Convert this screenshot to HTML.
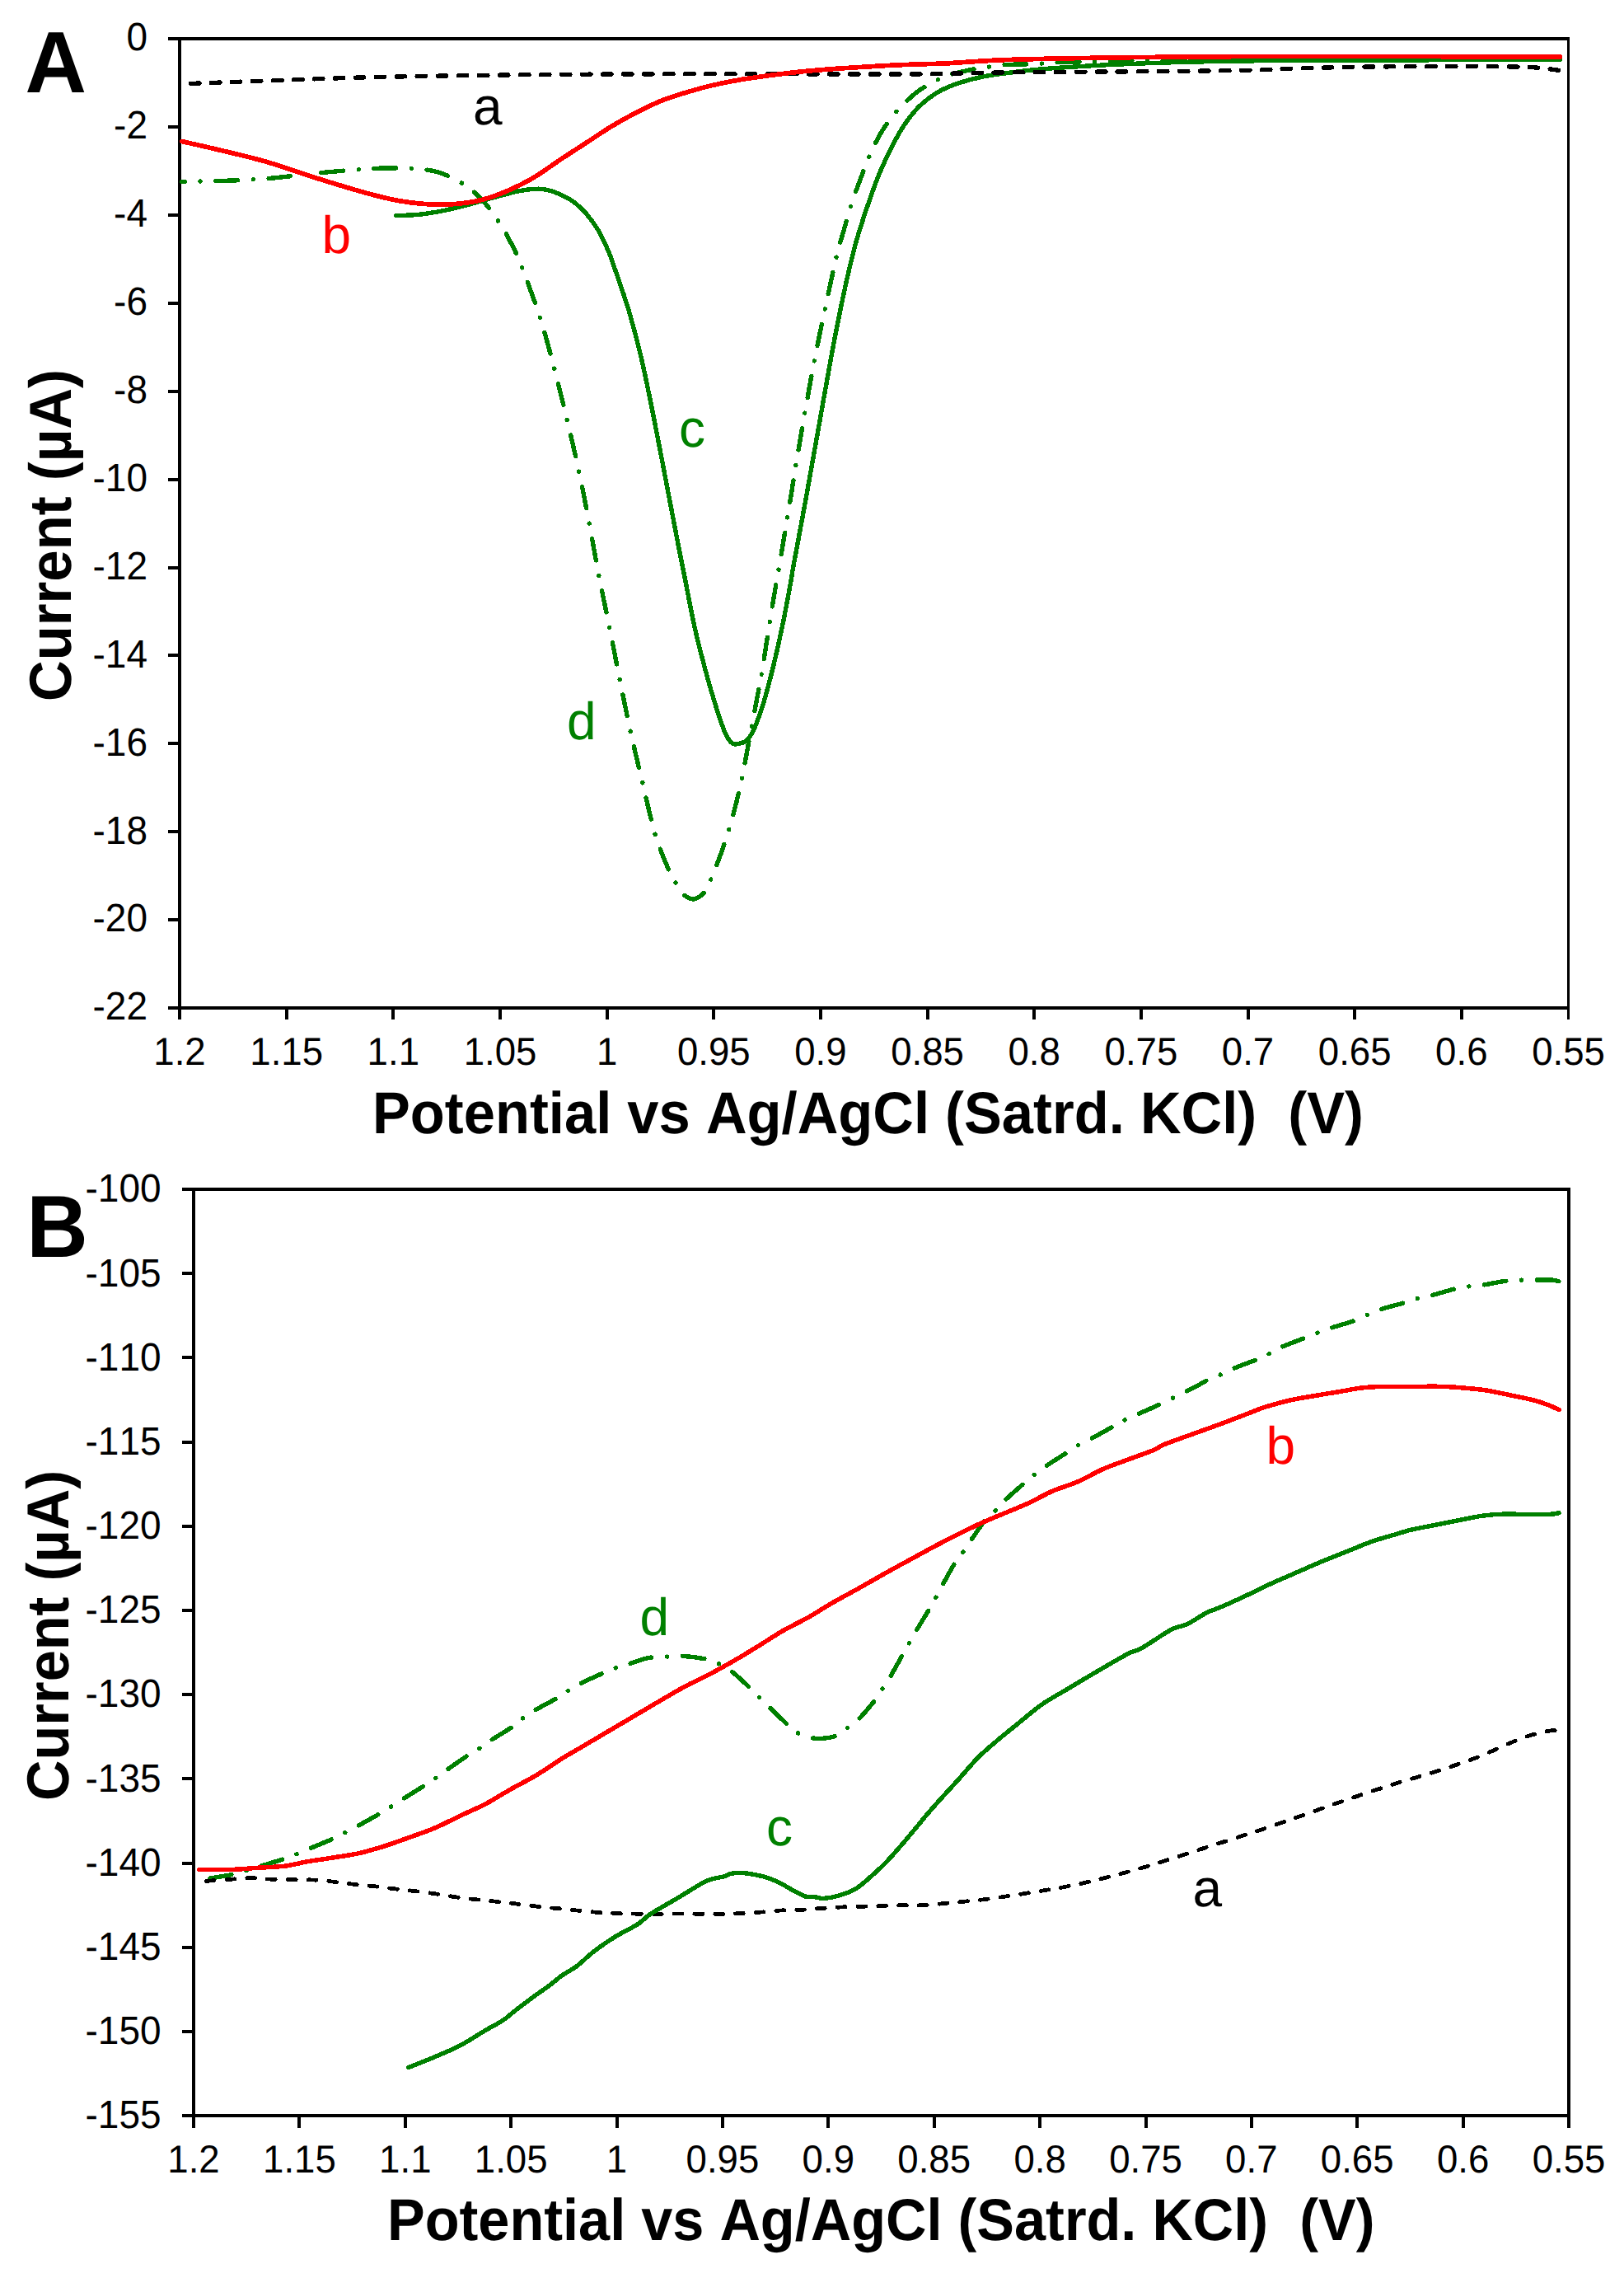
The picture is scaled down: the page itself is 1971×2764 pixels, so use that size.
<!DOCTYPE html>
<html><head><meta charset="utf-8"><title>Voltammograms</title>
<style>html,body{margin:0;padding:0;background:#fff}svg{display:block}text{font-family:"Liberation Sans",sans-serif;font-kerning:none}</style></head><body>
<svg width="1971" height="2764" viewBox="0 0 1971 2764" shape-rendering="auto" text-rendering="geometricPrecision">
<rect width="1971" height="2764" fill="#fff"/>
<g stroke="#000" stroke-width="4" fill="none" stroke-linecap="butt" shape-rendering="crispEdges">
<path d="M204.0 47.0H1905.0"/>
<path d="M218.0 47.0V1237.0"/>
<path d="M204.0 1223.0H1905.0"/>
<path d="M1903.5 45.0V1237.0" stroke-width="3"/>
<path d="M204.0 153.9H218.0M204.0 260.8H218.0M204.0 367.7H218.0M204.0 474.6H218.0M204.0 581.5H218.0M204.0 688.5H218.0M204.0 795.4H218.0M204.0 902.3H218.0M204.0 1009.2H218.0M204.0 1116.1H218.0M347.7 1223.0V1237.0M477.3 1223.0V1237.0M607.0 1223.0V1237.0M736.6 1223.0V1237.0M866.3 1223.0V1237.0M995.9 1223.0V1237.0M1125.6 1223.0V1237.0M1255.2 1223.0V1237.0M1384.9 1223.0V1237.0M1514.5 1223.0V1237.0M1644.2 1223.0V1237.0M1773.8 1223.0V1237.0"/>
</g>
<text transform="translate(179.0 61.3) scale(0.9620 1)" font-size="47.82" text-anchor="end" fill="#000">0</text>
<text transform="translate(179.0 168.2) scale(0.9620 1)" font-size="47.82" text-anchor="end" fill="#000">-2</text>
<text transform="translate(179.0 275.1) scale(0.9620 1)" font-size="47.82" text-anchor="end" fill="#000">-4</text>
<text transform="translate(179.0 382.0) scale(0.9620 1)" font-size="47.82" text-anchor="end" fill="#000">-6</text>
<text transform="translate(179.0 488.9) scale(0.9620 1)" font-size="47.82" text-anchor="end" fill="#000">-8</text>
<text transform="translate(179.0 595.8) scale(0.9620 1)" font-size="47.82" text-anchor="end" fill="#000">-10</text>
<text transform="translate(179.0 702.8) scale(0.9620 1)" font-size="47.82" text-anchor="end" fill="#000">-12</text>
<text transform="translate(179.0 809.7) scale(0.9620 1)" font-size="47.82" text-anchor="end" fill="#000">-14</text>
<text transform="translate(179.0 916.6) scale(0.9620 1)" font-size="47.82" text-anchor="end" fill="#000">-16</text>
<text transform="translate(179.0 1023.5) scale(0.9620 1)" font-size="47.82" text-anchor="end" fill="#000">-18</text>
<text transform="translate(179.0 1130.4) scale(0.9620 1)" font-size="47.82" text-anchor="end" fill="#000">-20</text>
<text transform="translate(179.0 1237.3) scale(0.9620 1)" font-size="47.82" text-anchor="end" fill="#000">-22</text>
<text transform="translate(218.0 1292.0) scale(0.9620 1)" font-size="47.40" text-anchor="middle" fill="#000">1.2</text>
<text transform="translate(347.7 1292.0) scale(0.9620 1)" font-size="47.40" text-anchor="middle" fill="#000">1.15</text>
<text transform="translate(477.3 1292.0) scale(0.9620 1)" font-size="47.40" text-anchor="middle" fill="#000">1.1</text>
<text transform="translate(607.0 1292.0) scale(0.9620 1)" font-size="47.40" text-anchor="middle" fill="#000">1.05</text>
<text transform="translate(736.6 1292.0) scale(0.9620 1)" font-size="47.40" text-anchor="middle" fill="#000">1</text>
<text transform="translate(866.3 1292.0) scale(0.9620 1)" font-size="47.40" text-anchor="middle" fill="#000">0.95</text>
<text transform="translate(995.9 1292.0) scale(0.9620 1)" font-size="47.40" text-anchor="middle" fill="#000">0.9</text>
<text transform="translate(1125.6 1292.0) scale(0.9620 1)" font-size="47.40" text-anchor="middle" fill="#000">0.85</text>
<text transform="translate(1255.2 1292.0) scale(0.9620 1)" font-size="47.40" text-anchor="middle" fill="#000">0.8</text>
<text transform="translate(1384.9 1292.0) scale(0.9620 1)" font-size="47.40" text-anchor="middle" fill="#000">0.75</text>
<text transform="translate(1514.5 1292.0) scale(0.9620 1)" font-size="47.40" text-anchor="middle" fill="#000">0.7</text>
<text transform="translate(1644.2 1292.0) scale(0.9620 1)" font-size="47.40" text-anchor="middle" fill="#000">0.65</text>
<text transform="translate(1773.8 1292.0) scale(0.9620 1)" font-size="47.40" text-anchor="middle" fill="#000">0.6</text>
<text transform="translate(1903.5 1292.0) scale(0.9620 1)" font-size="47.40" text-anchor="middle" fill="#000">0.55</text>
<g stroke="#000" stroke-width="4" fill="none" stroke-linecap="butt" shape-rendering="crispEdges">
<path d="M221.0 1443.0H1906.0"/>
<path d="M235.0 1443.0V2582.0"/>
<path d="M221.0 2567.0H1906.0"/>
<path d="M1904.0 1441.0V2582.0" stroke-width="4"/>
<path d="M221.0 1545.2H235.0M221.0 1647.4H235.0M221.0 1749.5H235.0M221.0 1851.7H235.0M221.0 1953.9H235.0M221.0 2056.1H235.0M221.0 2158.3H235.0M221.0 2260.5H235.0M221.0 2362.6H235.0M221.0 2464.8H235.0M363.4 2567.0V2582.0M491.8 2567.0V2582.0M620.2 2567.0V2582.0M748.5 2567.0V2582.0M876.9 2567.0V2582.0M1005.3 2567.0V2582.0M1133.7 2567.0V2582.0M1262.1 2567.0V2582.0M1390.5 2567.0V2582.0M1518.8 2567.0V2582.0M1647.2 2567.0V2582.0M1775.6 2567.0V2582.0"/>
</g>
<text transform="translate(195.6 1458.3) scale(0.9620 1)" font-size="47.82" text-anchor="end" fill="#000">-100</text>
<text transform="translate(195.6 1560.5) scale(0.9620 1)" font-size="47.82" text-anchor="end" fill="#000">-105</text>
<text transform="translate(195.6 1662.7) scale(0.9620 1)" font-size="47.82" text-anchor="end" fill="#000">-110</text>
<text transform="translate(195.6 1764.8) scale(0.9620 1)" font-size="47.82" text-anchor="end" fill="#000">-115</text>
<text transform="translate(195.6 1867.0) scale(0.9620 1)" font-size="47.82" text-anchor="end" fill="#000">-120</text>
<text transform="translate(195.6 1969.2) scale(0.9620 1)" font-size="47.82" text-anchor="end" fill="#000">-125</text>
<text transform="translate(195.6 2071.4) scale(0.9620 1)" font-size="47.82" text-anchor="end" fill="#000">-130</text>
<text transform="translate(195.6 2173.6) scale(0.9620 1)" font-size="47.82" text-anchor="end" fill="#000">-135</text>
<text transform="translate(195.6 2275.8) scale(0.9620 1)" font-size="47.82" text-anchor="end" fill="#000">-140</text>
<text transform="translate(195.6 2377.9) scale(0.9620 1)" font-size="47.82" text-anchor="end" fill="#000">-145</text>
<text transform="translate(195.6 2480.1) scale(0.9620 1)" font-size="47.82" text-anchor="end" fill="#000">-150</text>
<text transform="translate(195.6 2582.3) scale(0.9620 1)" font-size="47.82" text-anchor="end" fill="#000">-155</text>
<text transform="translate(235.0 2636.0) scale(0.9620 1)" font-size="47.40" text-anchor="middle" fill="#000">1.2</text>
<text transform="translate(363.4 2636.0) scale(0.9620 1)" font-size="47.40" text-anchor="middle" fill="#000">1.15</text>
<text transform="translate(491.8 2636.0) scale(0.9620 1)" font-size="47.40" text-anchor="middle" fill="#000">1.1</text>
<text transform="translate(620.2 2636.0) scale(0.9620 1)" font-size="47.40" text-anchor="middle" fill="#000">1.05</text>
<text transform="translate(748.5 2636.0) scale(0.9620 1)" font-size="47.40" text-anchor="middle" fill="#000">1</text>
<text transform="translate(876.9 2636.0) scale(0.9620 1)" font-size="47.40" text-anchor="middle" fill="#000">0.95</text>
<text transform="translate(1005.3 2636.0) scale(0.9620 1)" font-size="47.40" text-anchor="middle" fill="#000">0.9</text>
<text transform="translate(1133.7 2636.0) scale(0.9620 1)" font-size="47.40" text-anchor="middle" fill="#000">0.85</text>
<text transform="translate(1262.1 2636.0) scale(0.9620 1)" font-size="47.40" text-anchor="middle" fill="#000">0.8</text>
<text transform="translate(1390.5 2636.0) scale(0.9620 1)" font-size="47.40" text-anchor="middle" fill="#000">0.75</text>
<text transform="translate(1518.8 2636.0) scale(0.9620 1)" font-size="47.40" text-anchor="middle" fill="#000">0.7</text>
<text transform="translate(1647.2 2636.0) scale(0.9620 1)" font-size="47.40" text-anchor="middle" fill="#000">0.65</text>
<text transform="translate(1775.6 2636.0) scale(0.9620 1)" font-size="47.40" text-anchor="middle" fill="#000">0.6</text>
<text transform="translate(1904.0 2636.0) scale(0.9620 1)" font-size="47.40" text-anchor="middle" fill="#000">0.55</text>
<g fill="none" stroke-linejoin="round" shape-rendering="crispEdges">
<path d="M220.9 220.3C227.7 220.2 247.1 220.1 261.6 219.7C276.1 219.3 295.0 218.5 307.8 217.8C320.6 217.1 325.7 216.6 338.5 215.3C351.3 214.0 368.3 211.7 384.7 210.1C401.1 208.5 423.1 206.5 437.0 205.5C450.9 204.5 457.1 204.2 467.9 204.0C478.7 203.8 490.9 203.7 501.7 204.6C512.5 205.5 522.5 206.1 532.5 209.2C542.5 212.3 553.1 217.5 561.8 223.0C570.5 228.5 577.7 234.8 584.9 242.4C592.1 250.0 598.8 259.4 604.9 268.6C611.0 277.9 616.9 288.2 621.8 297.9C626.7 307.6 628.6 311.7 634.3 326.6C640.0 341.5 649.5 366.7 656.0 387.1C662.5 407.6 667.8 428.6 673.3 449.3C678.8 470.0 683.7 490.7 688.7 511.5C693.7 532.3 698.6 553.1 703.1 574.0C707.6 594.9 711.5 616.1 715.5 637.1C719.5 658.1 723.1 679.2 727.2 700.2C731.3 721.2 735.9 742.2 740.1 763.1C744.3 784.0 748.2 804.8 752.4 825.6C756.6 846.4 760.7 866.9 765.3 887.8C769.9 908.7 775.1 930.0 780.1 950.9C785.1 971.8 790.1 995.7 795.5 1013.4C800.9 1031.1 808.1 1047.2 812.4 1057.1C816.6 1066.9 817.9 1067.6 821.0 1072.5C824.1 1077.4 827.4 1083.3 830.9 1086.4C834.4 1089.5 838.4 1091.0 841.7 1091.0C845.0 1091.0 848.3 1088.4 850.9 1086.4C853.5 1084.5 854.9 1083.0 857.1 1079.3C859.3 1075.6 860.8 1071.7 863.9 1064.2C867.0 1056.7 872.0 1044.2 875.6 1034.1C879.2 1023.9 882.6 1013.6 885.7 1003.3C888.8 993.0 891.4 982.9 894.0 972.5C896.6 962.1 898.5 953.7 901.1 941.1C903.7 928.5 906.5 912.5 909.4 897.0C912.3 881.5 916.1 861.5 918.7 847.8C921.3 834.1 922.1 830.8 924.8 814.8C927.5 798.8 931.3 772.8 934.7 751.7C938.1 730.7 941.8 709.6 945.4 688.5C949.0 667.4 952.7 646.2 956.2 625.1C959.7 604.0 962.9 582.8 966.4 561.7C969.9 540.6 973.5 519.7 977.2 498.6C981.0 477.5 984.8 455.9 988.9 434.9C993.0 413.9 997.3 393.2 1001.8 372.4C1006.2 351.6 1011.9 325.7 1015.6 310.2C1019.3 294.7 1021.1 289.8 1024.1 279.4C1027.0 269.0 1030.0 258.3 1033.3 248.0C1036.6 237.7 1040.3 227.8 1044.1 217.8C1047.8 207.8 1051.4 197.7 1055.8 187.9C1060.2 178.2 1064.7 168.3 1070.3 159.3C1075.9 150.3 1082.4 141.6 1089.3 133.8C1096.2 126.0 1105.6 117.6 1111.8 112.5C1118.0 107.4 1121.7 106.0 1126.4 103.2C1131.2 100.4 1135.5 97.8 1140.3 95.6C1145.1 93.4 1147.8 92.1 1155.4 90.0C1163.1 87.9 1178.2 84.5 1186.2 83.0C1194.2 81.5 1197.5 81.5 1203.1 80.8C1208.7 80.1 1212.0 79.1 1220.0 78.6C1228.0 78.1 1242.9 78.0 1250.9 77.7C1258.9 77.4 1262.2 77.2 1267.8 76.8C1273.4 76.4 1277.3 75.9 1284.7 75.6C1292.1 75.3 1304.7 75.2 1312.4 75.0C1320.1 74.8 1320.1 74.9 1330.9 74.6C1341.7 74.3 1353.9 73.6 1377.0 73.1C1400.1 72.6 1432.3 72.0 1469.5 71.6C1506.7 71.2 1529.3 70.9 1600.0 70.6C1670.7 70.3 1844.6 70.1 1893.5 70.0" stroke="#008000" stroke-width="5.4" stroke-dasharray="26.5 18.82 0.1 18.82" stroke-linecap="round" stroke-dashoffset="23.27"/>
<path d="M480.8 261.5C485.3 261.3 498.2 261.4 507.9 260.4C517.5 259.4 528.4 257.6 538.7 255.5C549.0 253.4 559.2 250.7 569.5 248.0C579.8 245.3 590.0 242.2 600.2 239.4C610.5 236.7 622.3 233.2 631.0 231.5C639.7 229.8 646.9 229.3 652.6 229.2C658.3 229.1 660.7 229.5 665.4 230.7C670.1 231.9 675.7 233.9 680.8 236.3C685.9 238.7 691.1 241.1 696.2 244.9C701.3 248.8 706.5 253.4 711.6 259.4C716.7 265.4 722.4 272.9 727.0 280.9C731.6 288.8 735.8 298.8 739.3 307.1C742.8 315.4 743.8 319.2 747.8 330.8C751.8 342.4 758.1 359.6 763.2 377.0C768.3 394.4 773.5 413.4 778.6 435.5C783.7 457.6 788.9 483.8 794.0 509.4C799.1 535.0 804.3 562.7 809.4 589.4C814.5 616.1 821.2 651.1 824.8 669.5C828.4 687.9 827.8 684.6 830.9 700.0C834.0 715.4 839.1 743.1 843.2 761.6C847.3 780.1 851.4 795.4 855.5 810.8C859.6 826.2 864.3 842.1 867.9 853.9C871.5 865.7 874.5 874.8 877.1 881.7C879.7 888.6 881.2 892.1 883.3 895.5C885.3 898.9 887.3 901.1 889.4 902.3C891.5 903.5 893.0 903.1 895.6 902.6C898.2 902.1 902.2 901.2 904.8 899.5C907.4 897.8 909.0 895.6 911.0 892.4C913.0 889.2 914.5 886.5 917.1 880.1C919.7 873.7 922.8 866.0 926.4 853.9C930.0 841.8 934.6 824.7 938.7 807.8C942.8 790.9 947.3 770.3 951.0 752.3C954.7 734.3 958.8 711.2 960.8 700.0C962.8 688.8 960.3 701.3 963.3 684.9C966.3 668.5 973.6 629.9 978.7 601.7C983.8 573.5 989.0 544.2 994.1 515.5C999.2 486.8 1004.4 456.5 1009.5 429.3C1014.6 402.1 1020.2 374.0 1024.9 352.3C1029.6 330.6 1033.3 314.8 1037.5 299.0C1041.7 283.2 1045.5 271.9 1050.2 257.8C1054.9 243.8 1060.5 227.5 1065.6 214.7C1070.7 201.9 1075.9 191.2 1081.0 180.9C1086.1 170.7 1091.3 161.2 1096.4 153.2C1101.5 145.2 1106.7 138.8 1111.8 133.1C1116.9 127.4 1122.1 123.2 1127.2 119.3C1132.3 115.3 1136.9 112.4 1142.6 109.4C1148.3 106.4 1153.3 104.1 1161.6 101.4C1169.9 98.7 1182.1 95.2 1192.4 93.1C1202.7 90.9 1212.9 89.9 1223.2 88.5C1233.5 87.1 1243.8 85.8 1254.0 84.8C1264.2 83.8 1269.3 83.3 1284.7 82.3C1300.1 81.3 1325.8 79.6 1346.3 78.6C1366.8 77.6 1387.4 76.9 1407.9 76.2C1428.4 75.5 1449.0 75.0 1469.5 74.6C1490.0 74.2 1509.2 73.9 1531.0 73.7C1552.8 73.5 1539.6 73.8 1600.0 73.5C1660.4 73.2 1844.6 72.2 1893.5 72.0" stroke="#008000" stroke-width="5.4" stroke-linecap="round"/>
<path d="M231.5 101.4C251.2 100.7 309.1 98.4 350.0 97.0C390.9 95.6 419.9 94.2 477.0 93.1C534.1 92.0 622.1 90.8 692.6 90.3C763.1 89.8 832.1 89.8 900.0 89.8C967.9 89.8 1059.6 90.1 1100.0 90.0C1140.4 89.9 1122.1 89.8 1142.6 89.4C1163.1 89.1 1189.1 88.3 1223.0 87.9C1256.9 87.5 1304.9 87.3 1346.0 87.0C1387.1 86.7 1438.7 86.4 1469.5 86.0C1500.3 85.6 1516.8 85.2 1531.0 84.8C1545.2 84.4 1543.5 84.1 1555.0 83.7C1566.5 83.3 1584.4 82.7 1600.0 82.3C1615.6 81.9 1624.0 81.5 1648.5 81.2C1673.0 80.9 1722.4 80.6 1747.0 80.5C1771.6 80.4 1779.6 80.4 1796.0 80.5C1812.4 80.6 1833.3 80.9 1845.6 81.2C1857.9 81.5 1861.8 81.8 1870.0 82.5C1878.2 83.2 1890.7 85.2 1894.8 85.7" stroke="#000" stroke-width="5.3" stroke-dasharray="10.6 14.4" stroke-linecap="round"/>
<path d="M220.9 171.6C227.7 173.2 244.6 176.8 261.6 180.9C278.7 185.0 302.7 190.4 323.2 196.3C343.7 202.2 364.2 209.9 384.7 216.3C405.2 222.7 429.4 230.1 446.3 234.7C463.2 239.3 473.5 241.8 486.3 244.0C499.1 246.2 512.0 247.4 523.3 248.0C534.6 248.6 543.7 248.3 554.0 247.4C564.3 246.5 574.6 245.0 584.9 242.4C595.2 239.8 605.4 236.0 615.6 231.7C625.9 227.3 635.5 222.7 646.4 216.3C657.3 209.9 669.9 200.4 680.8 193.2C691.7 186.0 701.3 179.9 711.6 173.2C721.9 166.5 732.1 159.4 742.4 153.2C752.7 147.0 763.0 141.4 773.2 136.2C783.5 130.9 793.6 125.8 803.9 121.7C814.1 117.6 824.4 114.7 834.7 111.6C845.0 108.5 855.2 105.7 865.5 103.3C875.8 100.9 886.0 98.9 896.3 97.1C906.6 95.3 916.8 93.9 927.1 92.5C937.4 91.1 947.6 89.7 957.9 88.5C968.2 87.3 978.4 86.3 988.7 85.4C999.0 84.5 1009.2 83.7 1019.5 83.0C1029.8 82.3 1040.0 81.7 1050.2 81.1C1060.5 80.5 1070.7 79.8 1081.0 79.3C1091.3 78.8 1100.3 78.4 1111.8 78.0C1123.3 77.6 1131.4 77.7 1150.0 76.8C1168.6 75.9 1190.5 73.6 1223.2 72.5C1255.9 71.4 1305.2 70.6 1346.3 70.0C1387.3 69.4 1427.2 69.0 1469.5 68.8C1511.8 68.5 1529.4 68.5 1600.0 68.5C1670.6 68.5 1844.4 68.8 1893.3 68.9" stroke="#ff0000" stroke-width="5.7" stroke-linecap="round"/>
<path d="M254.8 2279.1C259.8 2278.2 277.2 2275.5 284.7 2273.9C292.2 2272.3 290.0 2272.4 300.0 2269.3C310.0 2266.2 334.5 2258.8 344.7 2255.5C354.9 2252.2 355.6 2251.5 361.0 2249.3C366.4 2247.1 369.7 2245.6 377.0 2242.5C384.3 2239.4 397.6 2234.0 404.7 2230.8C411.8 2227.6 414.4 2225.9 419.5 2223.2C424.6 2220.5 428.5 2218.7 435.5 2214.8C442.5 2211.0 455.0 2204.0 461.7 2200.1C468.4 2196.2 470.8 2194.4 475.5 2191.4C480.2 2188.4 483.3 2186.4 490.0 2182.2C496.7 2178.0 509.0 2170.4 515.6 2166.2C522.2 2162.0 524.8 2160.2 529.4 2157.0C534.0 2153.8 536.9 2151.3 543.3 2146.8C549.7 2142.3 561.3 2134.2 567.9 2129.9C574.5 2125.6 578.0 2124.0 582.7 2120.9C587.4 2117.8 589.6 2115.8 596.2 2111.4C602.8 2107.1 616.0 2099.3 622.4 2094.8C628.8 2090.3 630.4 2087.8 634.7 2084.6C639.1 2081.4 641.6 2079.4 648.5 2075.4C655.4 2071.4 669.3 2064.4 676.2 2060.3C683.1 2056.2 685.3 2054.0 690.1 2051.0C694.9 2048.0 697.7 2046.0 704.9 2042.4C712.1 2038.8 725.9 2032.7 733.2 2029.5C740.5 2026.3 743.5 2025.1 748.6 2023.3C753.7 2021.5 757.6 2020.7 764.0 2018.7C770.4 2016.8 779.4 2013.0 787.1 2011.6C794.8 2010.2 803.5 2010.5 810.2 2010.1C816.9 2009.7 819.2 2008.7 827.1 2009.2C835.0 2009.7 850.4 2011.6 857.9 2013.2C865.4 2014.8 867.3 2016.1 872.4 2018.7C877.5 2021.3 882.4 2023.7 888.7 2028.6C895.0 2033.5 904.7 2042.8 910.2 2048.0C915.7 2053.2 917.9 2056.1 921.9 2060.0C925.9 2063.9 928.5 2066.2 934.2 2071.7C940.0 2077.2 950.5 2087.9 956.4 2093.2C962.2 2098.5 964.6 2100.8 969.3 2103.4C974.0 2106.0 979.7 2107.6 984.7 2108.6C989.7 2109.6 994.2 2109.7 999.5 2109.2C1004.8 2108.7 1011.4 2107.8 1016.4 2105.5C1021.4 2103.2 1025.2 2099.1 1029.7 2095.7C1034.2 2092.3 1037.8 2090.3 1043.1 2084.9C1048.4 2079.5 1056.9 2069.4 1061.6 2063.3C1066.3 2057.2 1068.2 2053.4 1071.4 2048.5C1074.6 2043.6 1076.7 2040.9 1080.7 2034.1C1084.7 2027.3 1091.5 2014.8 1095.4 2007.9C1099.3 2001.0 1101.3 1997.5 1104.1 1992.5C1106.9 1987.5 1108.5 1984.7 1112.4 1978.0C1116.4 1971.3 1123.8 1959.3 1127.8 1952.5C1131.8 1945.7 1133.6 1942.2 1136.4 1937.1C1139.2 1932.0 1141.0 1928.4 1144.7 1921.7C1148.4 1915.0 1154.5 1903.5 1158.6 1897.0C1162.7 1890.5 1165.9 1887.5 1169.3 1882.6C1172.7 1877.7 1174.8 1874.1 1179.2 1867.8C1183.6 1861.5 1190.5 1850.7 1195.5 1844.7C1200.5 1838.7 1205.0 1836.2 1209.4 1831.8C1213.8 1827.4 1216.1 1823.9 1221.7 1818.5C1227.3 1813.1 1237.5 1804.4 1243.2 1799.4C1249.0 1794.4 1251.6 1792.3 1256.2 1788.7C1260.8 1785.1 1264.6 1782.2 1270.9 1777.9C1277.2 1773.6 1287.6 1767.2 1294.0 1763.1C1300.4 1758.9 1304.3 1756.0 1309.4 1753.0C1314.5 1750.0 1317.9 1749.0 1324.8 1745.3C1331.7 1741.6 1344.2 1734.6 1351.0 1730.8C1357.8 1727.0 1360.7 1725.1 1365.8 1722.5C1370.9 1719.9 1374.5 1718.6 1381.8 1715.4C1389.1 1712.2 1398.1 1708.5 1409.5 1703.1C1420.9 1697.7 1440.7 1687.7 1450.0 1683.0C1459.3 1678.3 1460.1 1677.2 1465.4 1674.7C1470.7 1672.2 1476.3 1670.3 1481.7 1667.9C1487.1 1665.5 1490.4 1663.3 1497.7 1660.2C1505.0 1657.1 1518.2 1652.5 1525.4 1649.5C1532.6 1646.5 1535.7 1645.0 1540.8 1642.4C1545.9 1639.8 1549.0 1637.3 1556.2 1634.1C1563.4 1630.9 1576.7 1626.1 1583.9 1623.3C1591.1 1620.5 1593.9 1619.1 1599.3 1617.1C1604.7 1615.0 1608.8 1613.5 1616.3 1611.0C1623.8 1608.5 1636.8 1605.0 1644.0 1602.4C1651.2 1599.8 1654.0 1597.6 1659.4 1595.3C1664.8 1593.0 1668.9 1590.9 1676.3 1588.5C1683.7 1586.1 1696.6 1583.0 1704.0 1580.8C1711.4 1578.6 1715.2 1576.8 1720.9 1575.3C1726.6 1573.8 1730.5 1573.5 1737.9 1571.6C1745.4 1569.7 1758.0 1565.7 1765.6 1563.9C1773.2 1562.1 1777.8 1561.6 1783.4 1560.8C1789.0 1560.0 1792.4 1560.2 1799.4 1559.2C1806.4 1558.2 1817.7 1555.6 1825.6 1554.6C1833.5 1553.6 1840.2 1553.3 1846.6 1553.1C1853.0 1552.8 1857.8 1553.1 1864.1 1553.1C1870.3 1553.1 1879.3 1552.8 1884.1 1553.1C1888.8 1553.4 1891.2 1554.7 1892.6 1555.0" stroke="#008000" stroke-width="5.4" stroke-dasharray="26.5 18.82 0.1 18.82" stroke-linecap="round" stroke-dashoffset="0"/>
<path d="M250.2 2282.4C255.4 2282.0 272.3 2280.7 281.6 2280.1C290.9 2279.5 298.5 2278.6 306.2 2278.6C313.9 2278.6 315.5 2279.7 327.8 2280.1C340.1 2280.5 367.3 2280.5 380.1 2281.0C392.9 2281.5 396.5 2282.3 404.7 2283.2C412.9 2284.1 421.2 2285.4 429.4 2286.3C437.6 2287.2 445.8 2287.8 454.0 2288.7C462.2 2289.6 470.4 2290.8 478.6 2291.8C486.8 2292.8 495.1 2293.6 503.3 2294.6C511.5 2295.6 519.7 2296.5 527.9 2297.7C536.1 2298.9 544.3 2300.5 552.5 2301.7C560.7 2302.9 568.9 2303.8 577.1 2304.7C585.3 2305.6 593.6 2306.3 601.8 2307.2C610.0 2308.1 618.2 2309.0 626.4 2310.0C634.6 2311.0 642.8 2312.2 651.0 2313.1C659.2 2314.0 667.5 2314.7 675.7 2315.5C683.9 2316.3 692.1 2317.2 700.3 2318.0C708.4 2318.8 716.4 2319.7 724.6 2320.3C732.8 2320.9 737.0 2321.2 749.3 2321.6C761.6 2322.0 786.2 2322.4 798.5 2322.5C810.8 2322.6 810.9 2321.9 823.2 2321.9C835.5 2321.9 859.6 2322.6 872.4 2322.5C885.2 2322.4 891.4 2322.0 900.1 2321.6C908.8 2321.2 916.6 2320.6 924.8 2320.0C933.0 2319.4 941.2 2318.4 949.4 2317.9C957.6 2317.4 965.8 2317.6 974.0 2317.2C982.2 2316.8 990.4 2315.9 998.6 2315.4C1006.8 2314.9 1015.1 2314.3 1023.3 2313.9C1031.5 2313.5 1039.7 2313.5 1047.9 2313.2C1056.1 2312.9 1064.3 2312.6 1072.5 2312.3C1080.7 2312.1 1089.0 2311.8 1097.2 2311.7C1105.4 2311.6 1113.6 2312.1 1121.8 2311.7C1130.0 2311.3 1138.2 2310.3 1146.4 2309.5C1154.6 2308.7 1162.3 2308.0 1171.1 2307.1C1179.9 2306.2 1186.4 2305.8 1199.3 2304.1C1212.2 2302.4 1232.1 2299.3 1248.5 2296.7C1264.9 2294.1 1281.4 2291.7 1297.8 2288.4C1314.2 2285.1 1330.6 2281.2 1347.0 2277.0C1363.4 2272.8 1379.9 2268.2 1396.3 2263.3C1412.7 2258.4 1429.2 2252.8 1445.6 2247.5C1462.0 2242.2 1478.4 2237.0 1494.8 2231.7C1511.2 2226.4 1527.7 2221.1 1544.1 2215.5C1560.5 2209.9 1576.9 2203.9 1593.3 2198.2C1609.7 2192.4 1626.2 2186.6 1642.6 2181.0C1659.0 2175.4 1675.5 2169.9 1691.9 2164.7C1708.3 2159.5 1724.7 2155.2 1741.1 2149.9C1757.5 2144.7 1774.0 2139.5 1790.4 2133.2C1806.8 2126.9 1827.4 2116.9 1839.7 2112.0C1852.0 2107.1 1856.9 2105.7 1864.3 2103.6C1871.7 2101.5 1879.1 2100.2 1884.0 2099.7C1888.9 2099.2 1892.2 2100.5 1893.8 2100.7" stroke="#000" stroke-width="4.8" stroke-dasharray="9.9 14.9" stroke-linecap="round"/>
<path d="M495.6 2508.6C501.0 2506.4 517.4 2500.1 527.9 2495.6C538.4 2491.1 548.4 2487.2 558.7 2481.8C569.0 2476.4 580.8 2468.4 589.5 2463.3C598.2 2458.2 604.9 2455.1 611.0 2451.0C617.1 2446.9 619.7 2443.8 626.4 2438.7C633.1 2433.6 644.3 2425.1 651.0 2420.2C657.7 2415.3 661.3 2413.2 666.4 2409.4C671.5 2405.6 676.2 2401.1 681.8 2397.1C687.4 2393.1 693.4 2390.6 700.0 2385.6C706.6 2380.6 713.9 2373.0 721.6 2367.1C729.3 2361.2 737.5 2355.6 746.2 2350.2C754.9 2344.8 766.7 2339.4 773.9 2334.8C781.1 2330.2 781.1 2327.9 789.3 2322.5C797.5 2317.1 812.4 2308.9 823.2 2302.5C834.0 2296.1 846.7 2287.8 853.9 2284.0C861.1 2280.2 862.2 2280.6 866.3 2279.4C870.4 2278.2 875.0 2277.9 878.6 2276.9C882.2 2275.9 883.7 2273.9 887.8 2273.2C891.9 2272.5 896.5 2271.9 903.2 2272.6C909.9 2273.3 920.6 2275.2 927.8 2277.2C935.0 2279.2 940.6 2281.9 946.3 2284.6C951.9 2287.3 956.6 2290.5 961.7 2293.2C966.8 2295.9 972.5 2299.5 977.1 2300.9C981.7 2302.3 985.5 2301.4 989.4 2301.8C993.2 2302.2 995.1 2303.8 1000.2 2303.4C1005.3 2303.0 1013.8 2301.4 1020.2 2299.4C1026.6 2297.4 1033.1 2295.0 1038.7 2291.7C1044.3 2288.4 1047.9 2284.8 1054.1 2279.4C1060.2 2274.0 1067.9 2267.4 1075.6 2259.4C1083.3 2251.4 1091.0 2242.4 1100.2 2231.6C1109.4 2220.8 1120.7 2206.5 1131.0 2194.7C1141.3 2182.9 1152.5 2171.1 1161.8 2160.8C1171.0 2150.5 1178.6 2141.1 1186.5 2133.1C1194.4 2125.1 1201.5 2119.4 1209.4 2112.6C1217.3 2105.8 1224.8 2099.9 1234.0 2092.5C1243.2 2085.1 1254.5 2075.1 1264.8 2067.9C1275.1 2060.7 1285.3 2055.6 1295.6 2049.4C1305.9 2043.2 1314.1 2038.2 1326.4 2031.0C1338.7 2023.8 1359.8 2011.4 1369.5 2006.3C1379.2 2001.2 1376.2 2005.1 1384.9 2000.2C1393.6 1995.3 1412.6 1982.0 1421.8 1977.1C1431.0 1972.2 1433.1 1974.3 1440.3 1970.9C1447.5 1967.5 1458.2 1959.9 1464.9 1956.5C1471.7 1953.1 1473.0 1953.6 1480.8 1950.3C1488.6 1947.0 1501.3 1941.2 1511.6 1936.4C1521.9 1931.6 1532.1 1926.3 1542.4 1921.6C1552.7 1916.9 1563.0 1912.6 1573.2 1908.1C1583.5 1903.6 1593.7 1899.1 1603.9 1894.8C1614.2 1890.5 1624.4 1886.6 1634.7 1882.5C1645.0 1878.4 1655.2 1873.8 1665.5 1870.2C1675.8 1866.6 1688.6 1863.3 1696.3 1861.0C1704.0 1858.7 1704.0 1858.2 1711.7 1856.4C1719.4 1854.6 1732.2 1852.3 1742.5 1850.2C1752.8 1848.1 1764.1 1845.8 1773.3 1844.0C1782.5 1842.2 1790.2 1840.5 1797.9 1839.4C1805.6 1838.3 1810.8 1837.7 1819.5 1837.3C1828.2 1836.9 1840.0 1837.3 1850.2 1837.3C1860.5 1837.3 1874.0 1837.6 1881.0 1837.3C1888.0 1837.0 1890.2 1836.0 1892.0 1835.7" stroke="#008000" stroke-width="5.4" stroke-linecap="round"/>
<path d="M241.8 2268.4C248.4 2268.4 269.8 2268.8 281.6 2268.4C293.4 2268.1 301.6 2267.0 312.4 2266.3C323.2 2265.6 335.9 2265.4 346.2 2264.1C356.4 2262.8 364.1 2260.3 373.9 2258.6C383.6 2256.9 394.4 2255.6 404.7 2253.9C415.0 2252.2 425.2 2251.0 435.5 2248.7C445.8 2246.4 456.0 2243.3 466.3 2240.1C476.6 2236.9 486.8 2233.0 497.1 2229.3C507.4 2225.6 517.6 2222.3 527.9 2217.9C538.2 2213.5 548.4 2208.0 558.7 2203.1C569.0 2198.2 579.2 2194.1 589.5 2188.7C599.8 2183.3 610.0 2176.6 620.2 2170.8C630.5 2165.0 640.7 2160.1 651.0 2153.9C661.3 2147.8 673.0 2139.4 681.8 2133.9C690.6 2128.4 689.9 2129.1 703.9 2120.9C717.9 2112.7 745.0 2096.7 765.5 2084.6C786.0 2072.5 811.7 2057.2 827.1 2048.6C842.5 2040.0 847.6 2038.6 857.9 2033.2C868.2 2027.8 878.4 2022.2 888.7 2016.3C899.0 2010.4 909.2 2004.1 919.5 1997.8C929.8 1991.5 940.0 1984.6 950.2 1978.7C960.5 1972.8 970.7 1968.2 981.0 1962.4C991.3 1956.6 1001.5 1949.8 1011.8 1943.9C1022.1 1938.0 1032.8 1932.5 1042.6 1927.0C1052.4 1921.5 1061.0 1916.4 1070.8 1910.9C1080.6 1905.4 1089.8 1900.4 1101.6 1894.0C1113.4 1887.6 1127.8 1879.6 1141.6 1872.4C1155.4 1865.2 1173.4 1856.3 1184.7 1850.9C1196.0 1845.5 1199.1 1844.5 1209.4 1840.1C1219.7 1835.7 1235.0 1829.8 1246.3 1824.7C1257.6 1819.6 1266.8 1813.8 1277.1 1809.3C1287.4 1804.8 1297.6 1802.4 1307.9 1797.9C1318.2 1793.4 1328.4 1787.0 1338.7 1782.5C1349.0 1778.0 1359.2 1774.6 1369.5 1770.8C1379.8 1767.0 1393.0 1762.4 1400.2 1759.4C1407.4 1756.4 1404.9 1756.0 1412.6 1752.8C1420.3 1749.6 1435.0 1744.5 1446.4 1740.4C1457.8 1736.3 1469.9 1732.0 1480.8 1728.0C1491.7 1724.0 1502.4 1719.8 1511.6 1716.3C1520.8 1712.8 1527.0 1709.9 1536.2 1707.0C1545.4 1704.1 1556.7 1701.0 1567.0 1698.7C1577.3 1696.4 1588.0 1694.9 1597.8 1693.2C1607.5 1691.5 1616.3 1690.1 1625.5 1688.6C1634.7 1687.0 1644.5 1684.9 1653.2 1683.9C1661.9 1682.9 1668.0 1682.7 1677.8 1682.4C1687.5 1682.2 1699.4 1682.4 1711.7 1682.4C1724.0 1682.4 1739.9 1682.0 1751.7 1682.4C1763.5 1682.8 1773.8 1683.8 1782.5 1684.6C1791.2 1685.4 1795.4 1685.6 1804.1 1687.0C1812.8 1688.4 1825.2 1691.2 1834.9 1693.2C1844.7 1695.2 1854.9 1697.2 1862.6 1699.3C1870.3 1701.3 1876.1 1703.6 1881.0 1705.5C1885.9 1707.4 1890.2 1709.8 1892.0 1710.6" stroke="#ff0000" stroke-width="5.5" stroke-linecap="round"/>
</g>
<text transform="translate(574.0 151.0) scale(1.0000 1)" font-size="64.00" text-anchor="start" fill="#000">a</text>
<text transform="translate(390.5 307.0) scale(1.0000 1)" font-size="64.00" text-anchor="start" fill="#ff0000">b</text>
<text transform="translate(824.0 542.0) scale(1.0000 1)" font-size="64.00" text-anchor="start" fill="#008000">c</text>
<text transform="translate(688.0 896.5) scale(1.0000 1)" font-size="64.00" text-anchor="start" fill="#008000">d</text>
<text transform="translate(776.5 1984.0) scale(1.0000 1)" font-size="64.00" text-anchor="start" fill="#008000">d</text>
<text transform="translate(1536.5 1775.6) scale(1.0000 1)" font-size="64.00" text-anchor="start" fill="#ff0000">b</text>
<text transform="translate(930.0 2239.0) scale(1.0000 1)" font-size="64.00" text-anchor="start" fill="#008000">c</text>
<text transform="translate(1447.5 2313.0) scale(1.0000 1)" font-size="64.00" text-anchor="start" fill="#000">a</text>
<text transform="translate(30.5 112.0) scale(0.9760 1)" font-size="105.74" text-anchor="start" fill="#000" font-weight="bold">A</text>
<text transform="translate(32.3 1524.8) scale(0.9650 1)" font-size="106.94" text-anchor="start" fill="#000" font-weight="bold">B</text>
<text x="452" y="1375" font-size="71.5" font-weight="bold" textLength="1203" lengthAdjust="spacingAndGlyphs" style="white-space:pre">Potential vs Ag/AgCl (Satrd. KCl)  (V)</text>
<text x="470" y="2718" font-size="71.5" font-weight="bold" textLength="1198.5" lengthAdjust="spacingAndGlyphs" style="white-space:pre">Potential vs Ag/AgCl (Satrd. KCl)  (V)</text>
<text transform="translate(86 851) rotate(-90)" font-size="72" font-weight="bold" textLength="403" lengthAdjust="spacingAndGlyphs">Current (µA)</text>
<text transform="translate(83.4 2185) rotate(-90)" font-size="72" font-weight="bold" textLength="401" lengthAdjust="spacingAndGlyphs">Current (µA)</text>
</svg></body></html>
